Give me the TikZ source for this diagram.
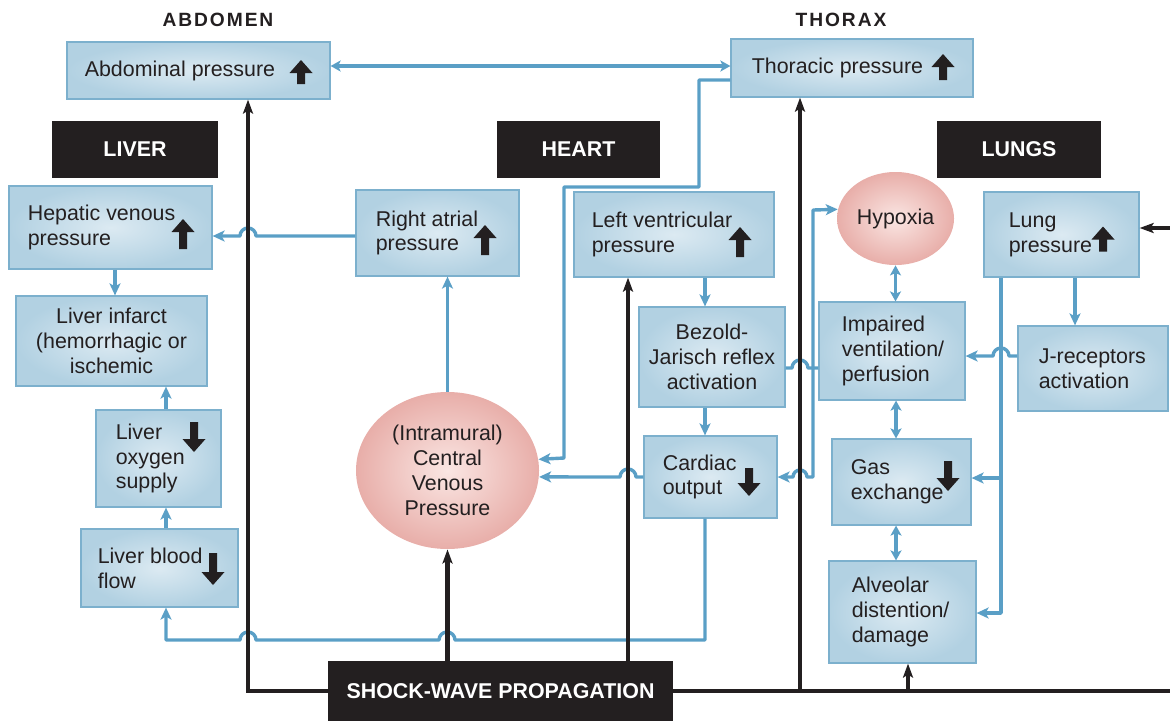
\documentclass[tikz,border=0pt]{standalone}
\usepackage{fontspec}
\setmainfont{Liberation Sans}
\usetikzlibrary{arrows.meta,shapes.geometric,calc}
\definecolor{bline}{HTML}{5A9FC6}
\definecolor{bborder}{HTML}{7CB0CD}
\definecolor{bin}{HTML}{DCEAF2}
\definecolor{bout}{HTML}{B2D1E2}
\definecolor{pin}{HTML}{FAE6E3}
\definecolor{pout}{HTML}{E8AEA9}
\definecolor{ink}{HTML}{231F20}
\tikzset{
  bbox/.style 2 args={rectangle, draw=bborder, line width=0.6pt, inner color=bin, outer color=bout,
    minimum width=#1*0.5pt, minimum height=#2*0.5pt, inner sep=0pt},
  pell/.style 2 args={ellipse, inner color=pin, outer color=pout,
    minimum width=#1*0.5pt, minimum height=#2*0.5pt, inner sep=0pt},
  txt/.style={font=\fontsize{10.7}{12.4}\selectfont, text=ink, align=left, inner sep=0pt},
  ctxt/.style={font=\fontsize{10.7}{12.4}\selectfont, text=ink, align=center},
  blackbox/.style 2 args={rectangle, fill=ink, text=white, font=\fontsize{10.7}{12.4}\selectfont\bfseries,
    minimum width=#1*0.5pt, minimum height=#2*0.5pt, inner sep=0pt},
  ttl/.style={text=ink, font=\fontsize{9.6}{11}\selectfont\bfseries\addfontfeature{LetterSpace=10}, inner sep=0pt},
  blu/.style={draw=bline, line width=1.7pt, line join=round},
  barr/.style={blu, -{Stealth[length=6pt,width=5.5pt,inset=1.5pt]}},
  bdbl/.style={blu, {Stealth[length=5pt,width=5.5pt,inset=1.2pt]}-{Stealth[length=5pt,width=5.5pt,inset=1.2pt]}},
  blk/.style={draw=ink, line width=2.4pt, line join=miter},
  karr/.style={blk, -{Stealth[length=7pt,width=5pt,inset=1.5pt]}},
  pics/bigarrow/.style={code={
    \fill[ink] (0,-#1/2) -- (11.5,-#1/2+13) -- (4,-#1/2+13) -- (4,#1/2) -- (-4,#1/2)
      -- (-4,-#1/2+13) -- (-11.5,-#1/2+13) -- cycle;}},
}
\begin{document}
\begin{tikzpicture}[x=0.5pt,y=-0.5pt]
\useasboundingbox (0,0) rectangle (1170,723);

% titles
\node[ttl] (abdh) at (218,20) {ABDOMEN};
\node[ttl] (thorh) at (841,20) {THORAX};
\node[blackbox={166}{57}] (liver) at (135,149.5) {LIVER};
\node[blackbox={163}{57}] (heart) at (578.5,149.5) {HEART};
\node[blackbox={164}{57}] (lungs) at (1019,149.5) {LUNGS};
\node[blackbox={345}{60}] (shock) at (500.5,691) {SHOCK-WAVE PROPAGATION};

% boxes
\node[bbox={263}{57}] (abd) at (198.5,70.5) {};
\node[txt,anchor=west] (abd-t) at ([xshift=9pt]abd.west) {Abdominal pressure};
\node[bbox={242}{58}] (thor) at (852,68) {};
\node[txt,anchor=west] (thor-t) at ([xshift=10.5pt]thor.west) {Thoracic pressure};
\node[bbox={203}{83}] (hep) at (110.5,227.5) {};
\node[txt,anchor=west] (hep-t) at ([xshift=9.5pt]hep.west) {Hepatic venous\\pressure};
\node[bbox={163}{86}] (ra) at (437.5,233) {};
\node[txt,anchor=west] (ra-t) at ([xshift=10pt]ra.west) {Right atrial\\pressure};
\node[bbox={200}{85}] (lv) at (674,234.5) {};
\node[txt,anchor=west] (lv-t) at ([xshift=9pt]lv.west) {Left ventricular\\pressure};
\node[pell={117}{93}] (hyp) at (895.5,218.5) {};
\node[ctxt] (hyp-t) at (hyp.center) {Hypoxia};
\node[bbox={155}{85}] (lung) at (1061.5,234.5) {};
\node[txt,anchor=west] (lung-t) at ([xshift=12.5pt]lung.west) {Lung\\pressure};
\node[bbox={191}{90}] (inf) at (111.5,341) {};
\node[ctxt] (inf-t) at (inf.center) {Liver infarct\\(hemorrhagic or\\ischemic};
\node[bbox={125}{97}] (oxy) at (158.5,458.5) {};
\node[txt,anchor=west] (oxy-t) at ([xshift=10pt]oxy.west) {Liver\\oxygen\\supply};
\node[bbox={157}{78}] (flow) at (159.5,568) {};
\node[txt,anchor=west] (flow-t) at ([xshift=8.5pt]flow.west) {Liver blood\\flow};
\node[pell={183}{157}] (cvp) at (447.5,470.5) {};
\node[ctxt] (cvp-t) at (cvp.center) {(Intramural)\\Central\\Venous\\Pressure};
\node[bbox={146}{100}] (bez) at (712,357) {};
\node[ctxt] (bez-t) at (bez.center) {Bezold-\\Jarisch reflex\\activation};
\node[bbox={133}{82}] (co) at (710.5,477) {};
\node[txt,anchor=west] (co-t) at ([xshift=9.5pt]co.west) {Cardiac\\output};
\node[bbox={146}{98}] (imp) at (892,351) {};
\node[txt,anchor=west] (imp-t) at ([xshift=11.5pt]imp.west) {Impaired\\ventilation/\\perfusion};
\node[bbox={150}{85}] (jr) at (1093,368.5) {};
\node[txt,anchor=west] (jr-t) at ([xshift=10.5pt]jr.west) {J-receptors\\activation};
\node[bbox={139}{86}] (gas) at (901.5,482) {};
\node[txt,anchor=west] (gas-t) at ([xshift=9.5pt]gas.west) {Gas\\exchange};
\node[bbox={147}{102}] (alv) at (902.5,612) {};
\node[txt,anchor=west] (alv-t) at ([xshift=11.5pt]alv.west) {Alveolar\\distention/\\damage};

% block arrows
\pic at (301,72) {bigarrow=24};
\pic at (943,67) {bigarrow=26};
\pic at (183,234) {bigarrow=30};
\pic at (485,240) {bigarrow=30};
\pic at (740,242) {bigarrow=30};
\pic at (1103,239) {bigarrow=25};
\pic[yscale=-1] at (194,437) {bigarrow=30};
\pic[yscale=-1] at (213,569) {bigarrow=32};
\pic[yscale=-1] at (749,482) {bigarrow=28};
\pic[yscale=-1] at (948,476) {bigarrow=30};

% blue connectors
\draw[bdbl] (abd.east |- 0,66) -- (thor.west |- 0,66);
\draw[barr] (thor.west |- 0,80) -- (699,80) -- (699,187) -- (564,187) -- (564,458) -- (cvp.7.5);
\draw[barr] (ra.west |- 0,236) -- (256,236) arc[start angle=0,end angle=-180,radius=8] -- (hep.east |- 0,236);
\draw[barr] (cvp.north) -- (cvp.north |- ra.south);
\draw[barr] (hep.south -| 115,0) -- (inf.north -| 115,0);
\draw[barr] (oxy.north -| 166,0) -- (inf.south -| 166,0);
\draw[barr] (flow.north -| 166,0) -- (oxy.south -| 166,0);
\draw[barr] (co.south -| 705,0) -- (705,640) -- (455,640) arc[start angle=0,end angle=-180,radius=8]
  -- (256,640) arc[start angle=0,end angle=-180,radius=8] -- (166,640) -- (flow.south -| 166,0);
\draw[barr] (co.west |- 0,477) -- (636,477) arc[start angle=0,end angle=-180,radius=8] -- (cvp.-4.4);
\draw[barr] (lv.south -| 705,0) -- (bez.north -| 705,0);
\draw[barr] (bez.south -| 705,0) -- (co.north -| 705,0);
\draw[blu] (bez.east |- 0,368) -- (792,368) arc[start angle=180,end angle=360,radius=8] -- (imp.west |- 0,368);
\coordinate (j1) at (813,368);
\draw[barr] (j1) -- (813,210) -- (hyp.171.6);
\draw[barr] (j1) -- (813,477) -- (807,477) arc[start angle=0,end angle=-180,radius=7] -- (co.east |- 0,477);
\draw[bdbl] (hyp.south) -- (hyp.south |- imp.north);
\draw[bdbl] (imp.south -| 896,0) -- (gas.north -| 896,0);
\draw[bdbl] (gas.south -| 896,0) -- (alv.north -| 896,0);
\draw[barr] (lung.south -| 1001,0) -- (1001,613) -- (alv.east |- 0,613);
\coordinate (j2) at (1001,478);
\draw[barr] (j2) -- (gas.east |- 0,478);
\draw[barr] (lung.south -| 1075,0) -- (jr.north -| 1075,0);
\draw[barr] (jr.west |- 0,356) -- (1009,356) arc[start angle=0,end angle=-180,radius=8] -- (imp.east |- 0,356);

% black connectors
\draw[karr] (shock.west) -- (248,691) -- (abd.south -| 248,0);
\draw[karr] (cvp.south |- shock.north) -- (cvp.south);
\draw[karr] (shock.north -| 628,0) -- (lv.south -| 628,0);
\draw[karr] (shock.east) -- (1185,691) -- (1185,228) -- (lung.east |- 0,228);
\coordinate (j3) at (800,691);
\coordinate (j4) at (908,691);
\draw[karr] (j3) -- (thor.south -| 800,0);
\draw[karr] (j4) -- (alv.south -| 908,0);
\end{tikzpicture}
\end{document}
